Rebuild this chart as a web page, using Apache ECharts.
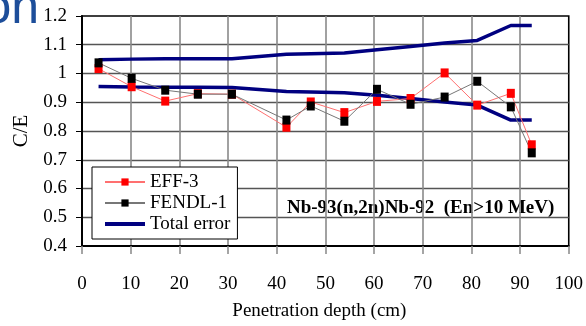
<!DOCTYPE html>
<html>
<head>
<meta charset="utf-8">
<script src="https://cdn.jsdelivr.net/npm/echarts@6/dist/echarts.min.js"></script>
<style>
  html, body { margin: 0; padding: 0; background: #fff; }
  #chart { width: 586px; height: 326px; }
</style>
</head>
<body>
<div id="chart"></div>
<script>
// Penetration depth (cm) of each measurement position
const depth = [3.4, 10.2, 17.1, 23.8, 30.8, 42.0, 47.0, 53.9, 60.6, 67.5, 74.5, 81.2, 88.1, 92.4];
// C/E ratios for the two evaluated libraries
const eff3 = [1.017, 0.954, 0.904, 0.930, 0.928, 0.813, 0.901, 0.864, 0.903, 0.913, 1.002, 0.890, 0.931, 0.752];
const fendl1 = [1.037, 0.983, 0.942, 0.928, 0.928, 0.838, 0.887, 0.834, 0.945, 0.893, 0.918, 0.973, 0.884, 0.724];
// Total error band (upper and lower bounds)
const errUpper = [1.048, 1.050, 1.051, 1.051, 1.051, 1.067, 1.069, 1.071, 1.083, 1.094, 1.106, 1.115, 1.167, 1.167];
const errLower = [0.955, 0.953, 0.952, 0.952, 0.951, 0.937, 0.936, 0.933, 0.924, 0.913, 0.901, 0.890, 0.838, 0.838];

const seriesNames = ['EFF-3', 'FENDL-1', 'Total error'];
const reactionLabel = 'Nb-93(n,2n)Nb-92  (En>10 MeV)';

const pairs = ys => depth.map((d, i) => [d, ys[i]]);
const serif = '"Liberation Serif", "Times New Roman", serif';

const chart = echarts.init(document.getElementById('chart'), null, { renderer: 'canvas' });

chart.setOption({
  animation: false,
  backgroundColor: '#fff',
  grid: {
    left: 82, right: 12, top: 16, bottom: 78,
    show: true, borderColor: '#000', borderWidth: 1.6, backgroundColor: 'transparent'
  },
  xAxis: {
    type: 'value', min: 0, max: 100, interval: 10,
    name: 'Penetration depth (cm)', nameLocation: 'middle', nameGap: 56,
    nameTextStyle: { fontFamily: serif, fontSize: 19, color: '#000', padding: [0, 12, 0, 0] },
    axisLine: { show: true, onZero: false, lineStyle: { color: '#000', width: 2 } },
    axisTick: { show: true, length: 8, lineStyle: { color: '#888', width: 1.5 } },
    axisLabel: { fontFamily: serif, fontSize: 19, color: '#000', margin: 29 },
    splitLine: { show: true, showMinLine: false, showMaxLine: false, lineStyle: { color: '#8a8a8a', width: 1.6 } }
  },
  yAxis: {
    type: 'value', min: 0.4, max: 1.2, interval: 0.1,
    name: 'C/E', nameLocation: 'middle', nameGap: 49, nameRotate: 90,
    nameTextStyle: { fontFamily: serif, fontSize: 21, color: '#000' },
    axisLine: { show: true, onZero: false, lineStyle: { color: '#000', width: 2 } },
    axisTick: { show: true, length: 6, lineStyle: { color: '#000', width: 1 } },
    axisLabel: {
      fontFamily: serif, fontSize: 19, color: '#000', margin: 15,
      formatter: v => String(+v.toFixed(1))
    },
    splitLine: { show: true, showMinLine: false, showMaxLine: false, lineStyle: { color: '#555', width: 1.3 } }
  },
  legend: {
    data: [
      seriesNames[0],
      seriesNames[1],
      { name: seriesNames[2], itemStyle: { opacity: 0 }, lineStyle: { width: 4, color: '#000080' } }
    ],
    orient: 'vertical',
    left: 92, top: 167,
    padding: [5, 7, 5, 11],
    backgroundColor: '#fff',
    borderColor: '#000', borderWidth: 1, borderRadius: 0,
    itemWidth: 40, itemHeight: 9, itemGap: 1,
    textStyle: { fontFamily: serif, fontSize: 19, color: '#000', lineHeight: 20 }
  },
  graphic: [
    {
      type: 'text', left: 287, top: 199, silent: true,
      style: { text: reactionLabel, font: 'bold 19px ' + serif, fill: '#000' }
    },
    {
      type: 'text', x: 39, y: 9, silent: true,
      style: { text: 'on', font: '50px "Liberation Sans", Arial, sans-serif', fill: '#1d4e9a', align: 'right', verticalAlign: 'middle' }
    }
  ],
  series: [
    {
      name: 'Total error', type: 'line', data: pairs(errUpper),
      symbol: 'none', lineStyle: { color: '#000080', width: 3.5 }, itemStyle: { color: '#000080' }
    },
    {
      name: 'Total error', type: 'line', data: pairs(errLower),
      symbol: 'none', lineStyle: { color: '#000080', width: 3.5 }, itemStyle: { color: '#000080' }
    },
    {
      name: 'EFF-3', type: 'line', data: pairs(eff3),
      symbol: 'rect', symbolSize: [8, 9],
      lineStyle: { color: '#ff7070', width: 1 }, itemStyle: { color: '#ff0000' }
    },
    {
      name: 'FENDL-1', type: 'line', data: pairs(fendl1),
      symbol: 'rect', symbolSize: [8, 9],
      lineStyle: { color: '#777', width: 1 }, itemStyle: { color: '#000' }
    }
  ]
});
</script>
</body>
</html>
